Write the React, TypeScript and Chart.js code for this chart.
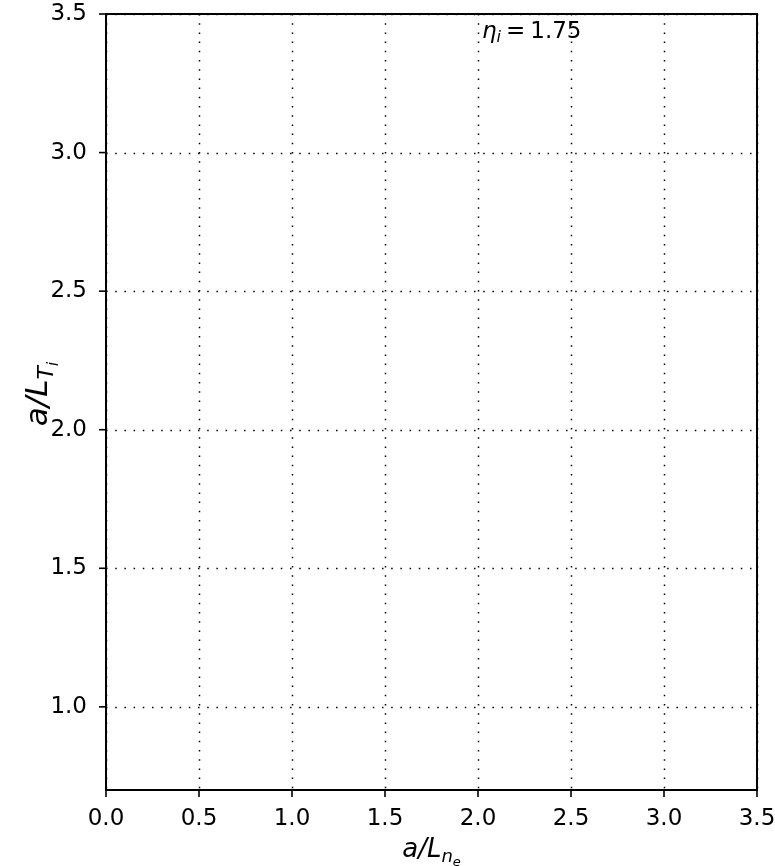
import React, { useEffect, useRef } from "react";
import { Chart, registerables } from "chart.js";

Chart.register(...registerables);

// Axis ranges and tick positions
const xRange = [0, 3.5];
const yRange = [0.7, 3.5];
const xTicks = [0, 0.5, 1.0, 1.5, 2.0, 2.5, 3.0, 3.5];
const yTicks = [1.0, 1.5, 2.0, 2.5, 3.0, 3.5];

// In-plot annotation (data coordinates of the text baseline start)
const etaX = 2.0;
const etaY = 3.413;
const etaValue = "1.75";

const FONT = "'DejaVu Sans', 'Liberation Sans', sans-serif";

type Run = { t: string; size: number; italic?: boolean; dy?: number; gap?: number };

function fontOf(r: Run) {
  return `${r.italic ? "italic " : ""}${r.size}px ${FONT}`;
}

function runsWidth(ctx: CanvasRenderingContext2D, runs: Run[]) {
  let w = 0;
  for (const r of runs) {
    ctx.font = fontOf(r);
    w += ctx.measureText(r.t).width + (r.gap || 0);
  }
  return w;
}

function drawRuns(ctx: CanvasRenderingContext2D, runs: Run[], x: number, y: number) {
  let cx = x;
  ctx.textAlign = "left";
  ctx.textBaseline = "alphabetic";
  for (const r of runs) {
    ctx.font = fontOf(r);
    cx += r.gap || 0;
    ctx.fillText(r.t, cx, y + (r.dy || 0));
    cx += ctx.measureText(r.t).width;
  }
}

const xTitle: Run[] = [
  { t: "a/L", size: 26, italic: true },
  { t: "n", size: 18, italic: true, dy: 5 },
  { t: "e", size: 13, italic: true, dy: 9 },
];

const yTitle: Run[] = [
  { t: "a/L", size: 31, italic: true },
  { t: "T", size: 22, italic: true, dy: 6 },
  { t: "i", size: 15, italic: true, dy: 11 },
];

const etaRuns: Run[] = [
  { t: "η", size: 23, italic: true },
  { t: "i", size: 16, italic: true, dy: 4 },
  { t: "=", size: 23, gap: 5 },
  { t: etaValue, size: 23, gap: 5 },
];

const axesPlugin = {
  id: "mplAxes",
  beforeDatasetsDraw(chart: any) {
    const { ctx, chartArea: a, scales } = chart;
    const x = scales.x;
    const y = scales.y;
    ctx.save();
    ctx.strokeStyle = "#000";
    ctx.lineWidth = 1.5;
    ctx.setLineDash([1.5, 7.7]);
    for (const v of xTicks) {
      const px = Math.round(x.getPixelForValue(v)) + 0.5;
      ctx.beginPath();
      ctx.moveTo(px, a.top);
      ctx.lineTo(px, a.bottom);
      ctx.stroke();
    }
    for (const v of yTicks) {
      const py = Math.round(y.getPixelForValue(v)) + 0.5;
      ctx.beginPath();
      ctx.moveTo(a.left, py);
      ctx.lineTo(a.right, py);
      ctx.stroke();
    }
    ctx.restore();
  },
  afterDraw(chart: any) {
    const { ctx, chartArea: a, scales } = chart;
    const x = scales.x;
    const y = scales.y;
    ctx.save();
    ctx.setLineDash([]);
    ctx.strokeStyle = "#000";
    ctx.lineWidth = 2;
    ctx.strokeRect(a.left, a.top, a.right - a.left, a.bottom - a.top);

    // outward tick marks
    ctx.lineWidth = 1.6;
    for (const v of xTicks) {
      const px = x.getPixelForValue(v);
      ctx.beginPath();
      ctx.moveTo(px, a.bottom);
      ctx.lineTo(px, a.bottom + 7);
      ctx.stroke();
    }
    for (const v of yTicks) {
      const py = y.getPixelForValue(v);
      ctx.beginPath();
      ctx.moveTo(a.left, py);
      ctx.lineTo(a.left - 7, py);
      ctx.stroke();
    }

    ctx.fillStyle = "#000";
    // x-axis title
    const cx = (a.left + a.right) / 2;
    const xw = runsWidth(ctx, xTitle);
    drawRuns(ctx, xTitle, cx - xw / 2, 857);

    // y-axis title, rotated
    const cy = (a.top + a.bottom) / 2 - 8;
    const yw = runsWidth(ctx, yTitle);
    ctx.save();
    ctx.translate(47, cy);
    ctx.rotate(-Math.PI / 2);
    drawRuns(ctx, yTitle, -yw / 2, 0);
    ctx.restore();

    // annotation inside the axes
    drawRuns(ctx, etaRuns, x.getPixelForValue(etaX) + 4, y.getPixelForValue(etaY));
    ctx.restore();
  },
};

export default function App() {
  const canvasRef = useRef<HTMLCanvasElement | null>(null);

  useEffect(() => {
    const canvas = canvasRef.current;
    if (!canvas) return;
    const chart = new Chart(canvas, {
      type: "scatter",
      data: { datasets: [{ data: [] as { x: number; y: number }[] }] },
      options: {
        animation: false,
        responsive: false,
        devicePixelRatio: 1,
        layout: { padding: { top: 14, right: 18, left: 0, bottom: 0 } },
        plugins: { legend: { display: false }, tooltip: { enabled: false } },
        scales: {
          x: {
            type: "linear",
            min: xRange[0],
            max: xRange[1],
            grid: { display: false, drawTicks: false },
            border: { display: false },
            afterBuildTicks: (s: any) => {
              s.ticks = xTicks.map((v) => ({ value: v }));
            },
            afterFit: (s: any) => {
              s.height = 76;
              s.paddingLeft = 0;
              s.paddingRight = 0;
            },
            ticks: {
              color: "#000",
              font: { family: FONT, size: 23 },
              padding: 15,
              maxRotation: 0,
              autoSkip: false,
              callback: (v: any) => Number(v).toFixed(1),
            },
          },
          y: {
            type: "linear",
            min: yRange[0],
            max: yRange[1],
            grid: { display: false, drawTicks: false },
            border: { display: false },
            afterBuildTicks: (s: any) => {
              s.ticks = yTicks.map((v) => ({ value: v }));
            },
            afterFit: (s: any) => {
              s.width = 106;
              s.paddingTop = 0;
              s.paddingBottom = 0;
            },
            ticks: {
              color: "#000",
              font: { family: FONT, size: 23 },
              padding: 19,
              autoSkip: false,
              callback: (v: any) => Number(v).toFixed(1),
            },
          },
        },
      },
      plugins: [axesPlugin],
    });
    return () => chart.destroy();
  }, []);

  return (
    <div style={{ position: "absolute", left: 0, top: 0, width: 775, height: 866, background: "#fff" }}>
      <canvas ref={canvasRef} width={775} height={866} />
    </div>
  );
}
